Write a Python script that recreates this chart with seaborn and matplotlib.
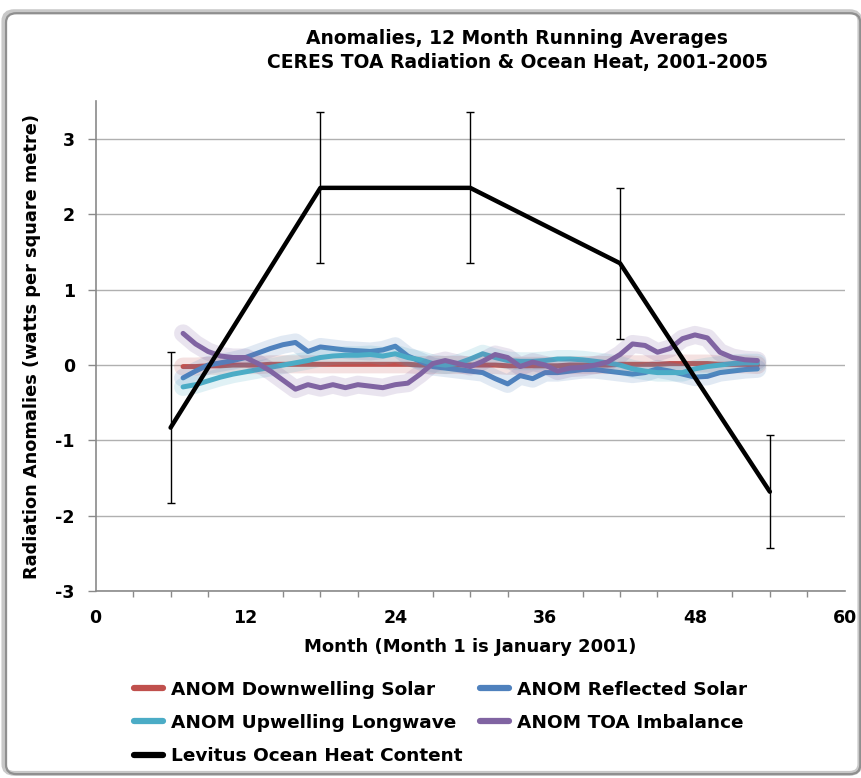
import numpy as np
import pandas as pd
import matplotlib
matplotlib.use("Agg")
import matplotlib.pyplot as plt
import matplotlib.patheffects as pe
from matplotlib.patches import FancyBboxPatch
from matplotlib.lines import Line2D
from matplotlib.ticker import MultipleLocator
import seaborn as sns

# ---- data ----
months = list(range(7, 54))

downwelling = [-0.02, -0.02, -0.01, -0.01, 0.0, 0.0, 0.0, 0.01, 0.01, 0.01,
               0.01, 0.01, 0.01, 0.01, 0.01, 0.01, 0.01, 0.01, 0.01, 0.0,
               0.0, 0.0, 0.0, 0.0, 0.0, 0.0, -0.01, -0.01, -0.01, -0.01,
               -0.01, 0.0, 0.0, 0.0, 0.0, 0.01, 0.01, 0.01, 0.01, 0.02,
               0.02, 0.02, 0.02, 0.01, 0.01, 0.01, 0.0]

reflected = [-0.17, -0.08, 0.0, 0.03, 0.06, 0.1, 0.16, 0.22, 0.27, 0.3,
             0.18, 0.24, 0.22, 0.2, 0.19, 0.18, 0.2, 0.25, 0.12, 0.05,
             -0.02, -0.04, -0.06, -0.08, -0.1, -0.18, -0.25, -0.14, -0.18, -0.1,
             -0.1, -0.08, -0.06, -0.06, -0.08, -0.1, -0.12, -0.1, -0.05, -0.08,
             -0.12, -0.16, -0.15, -0.1, -0.08, -0.06, -0.05]

upwelling = [-0.29, -0.26, -0.21, -0.16, -0.12, -0.09, -0.06, -0.03, 0.0, 0.03,
             0.06, 0.1, 0.12, 0.13, 0.13, 0.14, 0.12, 0.15, 0.1, 0.07,
             0.02, 0.0, 0.02, 0.08, 0.15, 0.1, 0.06, 0.05, 0.05, 0.06,
             0.08, 0.08, 0.07, 0.05, 0.03, 0.0, -0.05, -0.08, -0.1, -0.1,
             -0.1, -0.05, -0.02, 0.0, 0.02, 0.03, 0.03]

toa = [0.42, 0.28, 0.18, 0.12, 0.10, 0.10, 0.02, -0.08, -0.2, -0.32,
       -0.26, -0.30, -0.26, -0.30, -0.26, -0.28, -0.30, -0.26, -0.24, -0.12,
       0.02, 0.06, 0.02, -0.02, 0.05, 0.14, 0.10, -0.02, 0.04, 0.0,
       -0.08, -0.04, -0.03, 0.0, 0.04, 0.14, 0.28, 0.26, 0.17, 0.22,
       0.35, 0.40, 0.36, 0.17, 0.10, 0.07, 0.06]

levitus_months = [6, 18, 30, 42, 54]
levitus = [-0.83, 2.35, 2.35, 1.35, -1.68]
levitus_err = [1.0, 1.0, 1.0, 1.0, 0.75]

labels = ["ANOM Downwelling Solar", "ANOM Reflected Solar",
          "ANOM Upwelling Longwave", "ANOM TOA Imbalance",
          "Levitus Ocean Heat Content"]
colors = ["#c0504d", "#4f81bd", "#4bacc6", "#8064a2", "#000000"]

title_lines = ["Anomalies, 12 Month Running Averages",
               "CERES TOA Radiation & Ocean Heat, 2001-2005"]
xlabel = "Month (Month 1 is January 2001)"
ylabel = "Radiation Anomalies (watts per square metre)"

# ---- plotting ----
sns.set_theme(style="white")
plt.rcParams['font.family'] = ['DejaVu Sans']
plt.rcParams['axes.unicode_minus'] = False
plt.rcParams['text.color'] = 'black'
plt.rcParams['axes.labelcolor'] = 'black'
plt.rcParams['xtick.color'] = 'black'
plt.rcParams['ytick.color'] = 'black'

fig = plt.figure(figsize=(8.62, 7.78), dpi=100)
ax = fig.add_axes([0.111, 0.240, 0.869, 0.630])

# outer rounded frame with a soft shadow on the left/top
shadow = FancyBboxPatch((0.0045, 0.006), 0.993, 0.979,
                        boxstyle="round,pad=0,rounding_size=0.012",
                        transform=fig.transFigure, facecolor="none",
                        edgecolor="#c8c8c8", linewidth=3.5, zorder=0)
fig.patches.append(shadow)
frame = FancyBboxPatch((0.007, 0.005), 0.991, 0.978,
                       boxstyle="round,pad=0,rounding_size=0.012",
                       transform=fig.transFigure, facecolor="none",
                       edgecolor="#8f8f8f", linewidth=1.6, zorder=0)
fig.patches.append(frame)

series = [downwelling, reflected, upwelling, toa]
for vals, col, lab in zip(series, colors[:4], labels[:4]):
    df = pd.DataFrame({"month": months, "value": vals})
    sns.lineplot(data=df, x="month", y="value", ax=ax, color=col,
                 linewidth=3.6, zorder=3,
                 path_effects=[pe.Stroke(linewidth=13, foreground=col, alpha=0.17),
                               pe.Normal()])

lev = pd.DataFrame({"month": levitus_months, "value": levitus})
ax.errorbar(levitus_months, levitus, yerr=levitus_err, fmt="none",
            ecolor="black", elinewidth=1.0, capsize=3, capthick=1.0, zorder=4)
sns.lineplot(data=lev, x="month", y="value", ax=ax, color="black",
             linewidth=3.2, zorder=5)

ax.set_xlim(0, 60)
ax.set_ylim(-3, 3.5)
ax.xaxis.set_major_locator(MultipleLocator(12))
ax.xaxis.set_minor_locator(MultipleLocator(3))
ax.set_yticks([-3, -2, -1, 0, 1, 2, 3])
ax.grid(axis="y", color="#b0b0b0", linewidth=1.0)
ax.grid(axis="x", visible=False)
for s in ["top", "right"]:
    ax.spines[s].set_visible(False)
for s in ["left", "bottom"]:
    ax.spines[s].set_color("#8a8a8a")
    ax.spines[s].set_linewidth(1.2)
ax.tick_params(axis="x", which="major", direction="inout", length=9,
               color="#8a8a8a", width=1.0, labelsize=12.5, pad=8)
ax.tick_params(axis="x", which="minor", direction="out", length=4,
               color="#8a8a8a", width=1.0, bottom=True)
ax.tick_params(axis="y", which="major", direction="out", length=6,
               color="#8a8a8a", width=1.0, labelsize=12.5, pad=9, left=True)
for t in ax.get_xticklabels() + ax.get_yticklabels():
    t.set_fontweight("bold")

ax.set_xlabel(xlabel, fontsize=13, fontweight="bold", labelpad=8)
ax.set_ylabel(ylabel, fontsize=12.8, fontweight="bold", labelpad=10)

fig.text(0.60, 0.951, title_lines[0], ha="center", va="center",
         fontsize=13.5, fontweight="bold")
fig.text(0.60, 0.920, title_lines[1], ha="center", va="center",
         fontsize=13.5, fontweight="bold")

handles = [Line2D([], [], color=c, linewidth=4.5, solid_capstyle="round")
           for c in colors]
order = [0, 2, 4, 1, 3]
leg = fig.legend([handles[i] for i in order], [labels[i] for i in order],
                 ncol=2, loc="upper left", bbox_to_anchor=(0.155, 0.125),
                 frameon=False, prop={"weight": "bold", "size": 13.3},
                 handlelength=1.6, handletextpad=0.45, columnspacing=0.9,
                 labelspacing=0.82, borderpad=0, borderaxespad=0)

fig.savefig("out.png", dpi=100)
